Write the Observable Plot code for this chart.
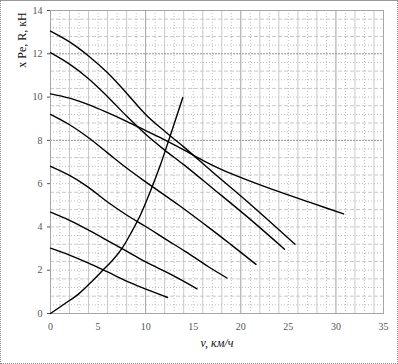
<!DOCTYPE html>
<html>
<head>
<meta charset="utf-8">
<script src="https://cdn.jsdelivr.net/npm/d3@7"></script>
<script src="https://cdn.jsdelivr.net/npm/@observablehq/plot@0.6"></script>
<style>
  body { margin: 0; background: #fff; }
  #wrap { position: relative; width: 398px; height: 364px; }
  #border { position: absolute; left: 0; top: 0; width: 398px; height: 364px; box-sizing: border-box; border: 1px dotted #888; border-top: 1px solid #999; pointer-events: none; }
</style>
</head>
<body>
<div id="wrap"><div id="border"></div></div>
<script>
// Tick labels
const xTicks = [0, 5, 10, 15, 20, 25, 30, 35];
const yTicks = [0, 2, 4, 6, 8, 10, 12, 14];
const yTitle = "x Pe, R, кН";
const xTitle = "v, км/ч";

// Traction force curves (x = speed km/h, y = force kN)
const curve1 = [[0,13.05],[2,12.55],[4,11.9],[6,11.12],[8,10.18],[10,9.2],[12,8.42],[14,7.7],[17,6.55],[21,5.05],[25.7,3.2]];
const curve2 = [[0,12.05],[2,11.52],[4,10.85],[6,10.02],[8,9.12],[10,8.28],[12,7.55],[14,6.88],[17,5.8],[21,4.35],[24.6,2.97]];
const curve3 = [[0,10.15],[2,9.95],[4,9.65],[6,9.28],[8,8.88],[10,8.45],[12,8.02],[14,7.56],[16,7.08],[18,6.65],[20.5,6.2],[24,5.63],[27.5,5.1],[30.8,4.6]];
const curve4 = [[0,9.2],[2,8.72],[4,8.12],[6,7.42],[8,6.72],[10,6.08],[13.5,5.0],[17,3.85],[19,3.17],[21.6,2.27]];
const curve5 = [[0,6.8],[2,6.38],[4,5.83],[6,5.15],[8,4.55],[10,4.02],[12,3.46],[14.2,2.86],[16.6,2.16],[18.55,1.64]];
const curve6 = [[0,4.68],[2,4.3],[4,3.85],[6,3.37],[8,2.88],[10,2.38],[12.8,1.77],[15.4,1.14]];
const curve7 = [[0,3.02],[2,2.7],[4,2.33],[6,1.92],[8.5,1.4],[12.3,0.74]];
// Resistance curve R
const resistance = [[0,0],[1.5,0.45],[3,0.92],[4.5,1.55],[5.5,2.0],[6.5,2.45],[7.5,3.0],[8.5,3.75],[9.5,4.6],[10.5,5.65],[11.5,6.8],[12.5,8.1],[13.9,9.97]];

const curves = [curve1, curve2, curve3, curve4, curve5, curve6, curve7, resistance];

// Grid positions
const xGridSolid = d3.range(0, 36, 2).filter(v => v % 10 !== 0);
const xGridDotted = d3.range(1, 36, 2);
const xGridMajor = [10, 20, 30];
const yGridAll = d3.range(0, 71).map(i => +(i * 0.4).toFixed(2)).filter(v => v <= 14);
const yGridSolid = yGridAll.filter((v, i) => i % 2 === 0 && ![0, 8, 12].includes(v));
const yGridDotted = yGridAll.filter((v, i) => i % 2 === 1);
const yGridMajor = [8, 12];

const marks = [
  Plot.ruleX(xGridDotted, {stroke: "#bdbdbd", strokeDasharray: "1,2"}),
  Plot.ruleX(xGridSolid, {stroke: "#c8c8c8"}),
  Plot.ruleX(xGridMajor, {stroke: "#a0a0a0"}),
  Plot.ruleY(yGridDotted, {stroke: "#bdbdbd", strokeDasharray: "1,2"}),
  Plot.ruleY(yGridSolid, {stroke: "#c8c8c8", strokeDasharray: "4,2"}),
  Plot.ruleY(yGridMajor, {stroke: "#909090", strokeDasharray: "2,1"}),
  Plot.frame({stroke: "#a6a6a6"}),
  ...curves.map(c => Plot.line(c, {x: d => d[0], y: d => d[1], curve: "catmull-rom", stroke: "black", strokeWidth: 1.4}))
];

const chart = Plot.plot({
  width: 398,
  height: 364,
  marginLeft: 50,
  marginRight: 15,
  marginTop: 10,
  marginBottom: 51,
  style: {fontFamily: "Liberation Serif", fontSize: "10px", color: "#555", background: "white"},
  x: {domain: [0, 35], ticks: xTicks, tickSize: 0, tickPadding: 9, label: null},
  y: {domain: [0, 14], ticks: yTicks, tickSize: 3, tickPadding: 5, label: null},
  marks
});

const svg = d3.select(chart);
svg.append("text")
  .attr("transform", "translate(23,40) rotate(-90)")
  .attr("text-anchor", "middle")
  .attr("dominant-baseline", "middle")
  .style("font-family", "Liberation Serif")
  .style("font-size", "12px")
  .attr("fill", "#111")
  .text(yTitle);
svg.append("text")
  .attr("x", 217)
  .attr("y", 347)
  .attr("text-anchor", "middle")
  .style("font-family", "Liberation Serif")
  .style("font-size", "12px")
  .style("font-style", "italic")
  .attr("fill", "#111")
  .text(xTitle);

document.getElementById("wrap").prepend(chart);
</script>
</body>
</html>
